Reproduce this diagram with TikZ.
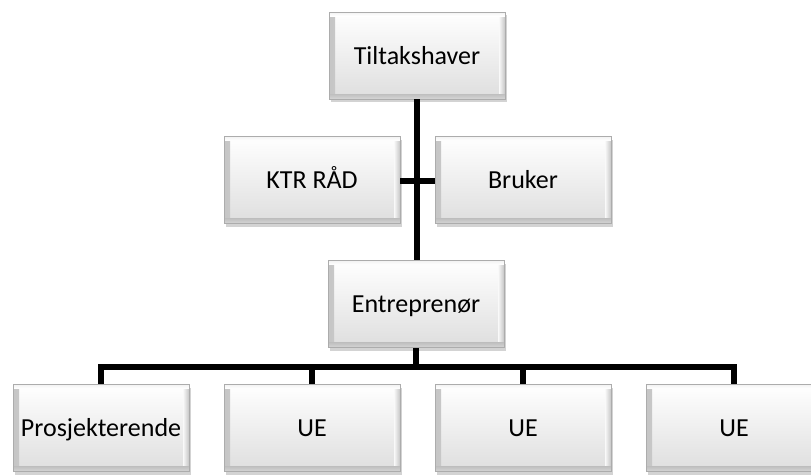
\documentclass[tikz,border=0pt]{standalone}
\usepackage{fontspec}
\setmainfont{Carlito}
\usetikzlibrary{shadows,calc}
\tikzset{
  box/.style={rectangle, minimum width=176pt, minimum height=87pt, inner sep=0pt,
    text height=17pt, text depth=0pt,
    draw=gray!65, line width=0.7pt, top color=white, bottom color=gray!26,
    drop shadow={shadow xshift=1.5pt, shadow yshift=-3pt, opacity=0.35, fill=gray},
    font=\fontsize{26}{30}\selectfont,
    path picture={
      \fill[left color=gray!45, right color=gray!5] (path picture bounding box.south west) rectangle ([xshift=6pt]path picture bounding box.north west);
      \fill[right color=gray!45, left color=gray!5] (path picture bounding box.south east) rectangle ([xshift=-6pt]path picture bounding box.north east);
      \fill[top color=gray!50, bottom color=gray!32] (path picture bounding box.south west) rectangle ([yshift=5pt]path picture bounding box.south east);
      \fill[top color=gray!10, bottom color=white] (path picture bounding box.north west) rectangle ([yshift=-4pt]path picture bounding box.north east);
    }},
  conn/.style={line width=5.5pt, black, line join=miter}
}
\begin{document}
\begin{tikzpicture}[x=1pt,y=-1pt]
\useasboundingbox (0,0) rectangle (811,474);
\clip (0,0) rectangle (811,474);
\coordinate (bus) at (0,367);
\node[box] (t) at (417,55.5) {Tiltakshaver};
\node[box] (k) at (312,180) {KTR RÅD};
\node[box] (b) at (523,180) {Bruker};
\node[box] (e) at (416,304) {Entreprenør};
\node[box] (p) at (101,428) {Prosjekterende};
\node[box] (u1) at (312,428) {UE};
\node[box] (u2) at (523,428) {UE};
\node[box] (u3) at (734,428) {UE};
\draw[conn] (t.south -| 417,0) -- (e.north -| 417,0);
\draw[conn] ($(k.east)+(0,1)$) -- ($(b.west)+(0,1)$);
\draw[conn] (e.south) -- (e.south |- bus);
\draw[conn] (p.north) -- (p.north |- bus) -- (u3.north |- bus) -- (u3.north);
\draw[conn] (u1.north) -- (u1.north |- bus);
\draw[conn] (u2.north) -- (u2.north |- bus);
\end{tikzpicture}
\end{document}
